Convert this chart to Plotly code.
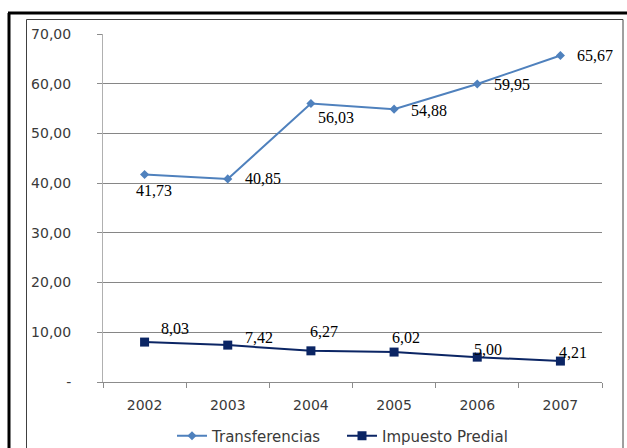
import plotly.graph_objects as go

years = ["2002", "2003", "2004", "2005", "2006", "2007"]
transferencias = [41.73, 40.85, 56.03, 54.88, 59.95, 65.67]
impuesto = [8.03, 7.42, 6.27, 6.02, 5.00, 4.21]
y_tickvals = [0, 10, 20, 30, 40, 50, 60, 70]
y_ticktext = ["-", "10,00", "20,00", "30,00", "40,00", "50,00", "60,00", "70,00"]

def fmt(v):
    return f"{v:.2f}".replace(".", ",")

W, H = 627, 448
L, R, T, B = 103, 25, 34, 66
PW, PH = W - L - R, H - T - B

def px(x):
    return (x - L) / PW

def py(y):
    return (H - B - y) / PH

fig = go.Figure()
fig.add_trace(go.Scatter(
    x=years, y=transferencias, name="Transferencias", mode="lines+markers",
    line=dict(color="#4F81BD", width=2),
    marker=dict(symbol="diamond", size=7, color="#4F81BD"),
))
fig.add_trace(go.Scatter(
    x=years, y=impuesto, name="Impuesto Predial", mode="lines+markers",
    line=dict(color="#0B2564", width=2),
    marker=dict(symbol="square", size=9, color="#0B2564"),
))

t_shift = [(9, -16), (35, 0), (25, -14), (35, -1), (35, -1), (35, 0)]
i_shift = [(30, 14), (31, 8), (13, 19), (12, 15), (11, 8), (13, 9)]
label_font = dict(family="Liberation Serif", size=16, color="#000000")
annos = []
for i, (v, (dx, dy)) in enumerate(zip(transferencias, t_shift)):
    annos.append(dict(x=i, y=v, xref="x", yref="y", text=fmt(v), showarrow=False,
                      xshift=dx, yshift=dy, font=label_font))
for i, (v, (dx, dy)) in enumerate(zip(impuesto, i_shift)):
    annos.append(dict(x=i, y=v, xref="x", yref="y", text=fmt(v), showarrow=False,
                      xshift=dx, yshift=dy, font=label_font))

shapes = [
    dict(type="rect", xref="paper", yref="paper", x0=px(26.5), x1=px(623), y0=py(19.5), y1=py(460),
         line=dict(color="#404040", width=1), layer="below"),
    dict(type="line", xref="paper", yref="paper", x0=px(8), x1=px(627), y0=py(13), y1=py(13),
         line=dict(color="#000000", width=3)),
    dict(type="line", xref="paper", yref="paper", x0=px(9), x1=px(9), y0=py(13), y1=py(460),
         line=dict(color="#000000", width=3)),
]

fig.update_layout(
    width=W, height=H,
    margin=dict(l=L, r=R, t=T, b=B, autoexpand=False),
    paper_bgcolor="white", plot_bgcolor="white",
    font=dict(family="DejaVu Sans", size=14, color="#3A3A3A"),
    showlegend=True,
    legend=dict(orientation="h", x=px(342), xanchor="center", y=py(436), yanchor="middle",
                font=dict(family="DejaVu Sans", size=15, color="#3A3A3A"),
                itemwidth=30, tracegroupgap=0, entrywidth=125, entrywidthmode="pixels"),
    annotations=annos,
    shapes=shapes,
)
fig.update_xaxes(
    type="category", range=[-0.5, 5.5], showgrid=False,
    showline=True, linecolor="#8C8C8C", linewidth=1,
    ticks="outside", tickson="boundaries", ticklen=5, tickcolor="#8C8C8C",
    ticklabelstandoff=10,
    tickfont=dict(family="DejaVu Sans", size=14, color="#3A3A3A"),
)
fig.update_yaxes(
    range=[0, 70], tickvals=y_tickvals, ticktext=y_ticktext,
    showgrid=True, gridcolor="#868686", gridwidth=1,
    showline=True, linecolor="#B0B0B0", linewidth=1,
    ticks="outside", ticklen=5, tickcolor="#8C8C8C",
    ticklabelstandoff=23, zeroline=False,
    tickfont=dict(family="DejaVu Sans", size=14, color="#3A3A3A"),
)

fig.write_html("out.html", config={"displayModeBar": False},
               post_script="document.body.style.margin='0';")
